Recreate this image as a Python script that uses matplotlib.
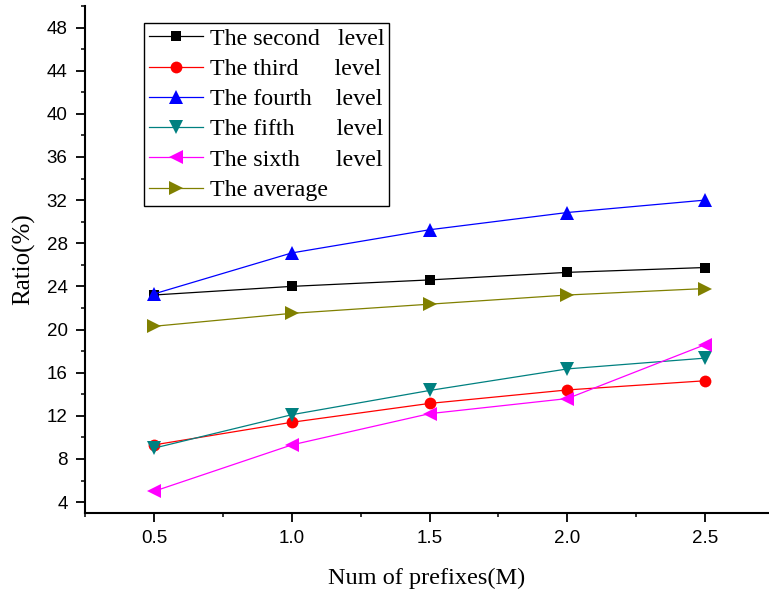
import numpy as np
import matplotlib
matplotlib.use('Agg')
import matplotlib.pyplot as plt
from matplotlib.ticker import MultipleLocator

# Data
prefixes = [0.5, 1.0, 1.5, 2.0, 2.5]
second_level = [23.2, 24.0, 24.6, 25.3, 25.75]
third_level = [9.3, 11.4, 13.15, 14.4, 15.25]
fourth_level = [23.3, 27.1, 29.25, 30.85, 32.0]
fifth_level = [9.0, 12.1, 14.35, 16.35, 17.35]
sixth_level = [5.0, 9.3, 12.2, 13.6, 18.6]
average = [20.3, 21.5, 22.35, 23.2, 23.8]

labels = ['The second   level', 'The third      level', 'The fourth    level',
          'The fifth       level', 'The sixth      level', 'The average']

serif = ['Liberation Serif', 'DejaVu Serif']
sans = ['Liberation Sans', 'DejaVu Sans']

fig = plt.figure(figsize=(7.69, 5.95), dpi=100)
ax = fig.add_axes([0.1105, 0.138, 0.889, 0.852])

series = [
    (second_level, 'black', 's', 7),
    (third_level, 'red', 'o', 8.5),
    (fourth_level, 'blue', '^', 10),
    (fifth_level, '#008080', 'v', 10),
    (sixth_level, 'magenta', '<', 10),
    (average, '#808000', '>', 10),
]
for (vals, col, mk, ms), lab in zip(series, labels):
    ax.plot(prefixes, vals, color=col, marker=mk, markersize=ms, linewidth=0.9,
            markeredgewidth=0, label=lab)

ax.set_xlim(0.25, 2.73)
ax.set_ylim(3, 50)
ax.xaxis.set_major_locator(MultipleLocator(0.5))
ax.xaxis.set_minor_locator(MultipleLocator(0.25))
ax.yaxis.set_major_locator(MultipleLocator(4))
ax.yaxis.set_minor_locator(MultipleLocator(2))
ax.set_xticks(prefixes)
ax.set_xticklabels([f'{p:.1f}' for p in prefixes])

for side in ['top', 'right']:
    ax.spines[side].set_visible(False)
for side in ['left', 'bottom']:
    ax.spines[side].set_linewidth(1.5)

ax.tick_params(which='major', direction='out', length=6.5, width=1.3, labelsize=13.5, pad=6)
ax.tick_params(which='minor', direction='out', length=3, width=1.1)
for lbl in ax.get_xticklabels() + ax.get_yticklabels():
    lbl.set_family(sans)

ax.set_xlabel('Num of prefixes(M)', fontsize=17.5, family=serif, labelpad=15)
ax.set_ylabel('Ratio(%)', fontsize=18, family=serif, labelpad=8)

leg = ax.legend(loc='upper left', bbox_to_anchor=(0.086, 0.966), fancybox=False,
                edgecolor='black', framealpha=1, prop={'family': serif, 'size': 17.3},
                handlelength=2.25, handletextpad=0.3, borderpad=0.2, labelspacing=0.35,
                borderaxespad=0)
leg.get_frame().set_linewidth(1.0)

fig.savefig('out.png', dpi=100)
